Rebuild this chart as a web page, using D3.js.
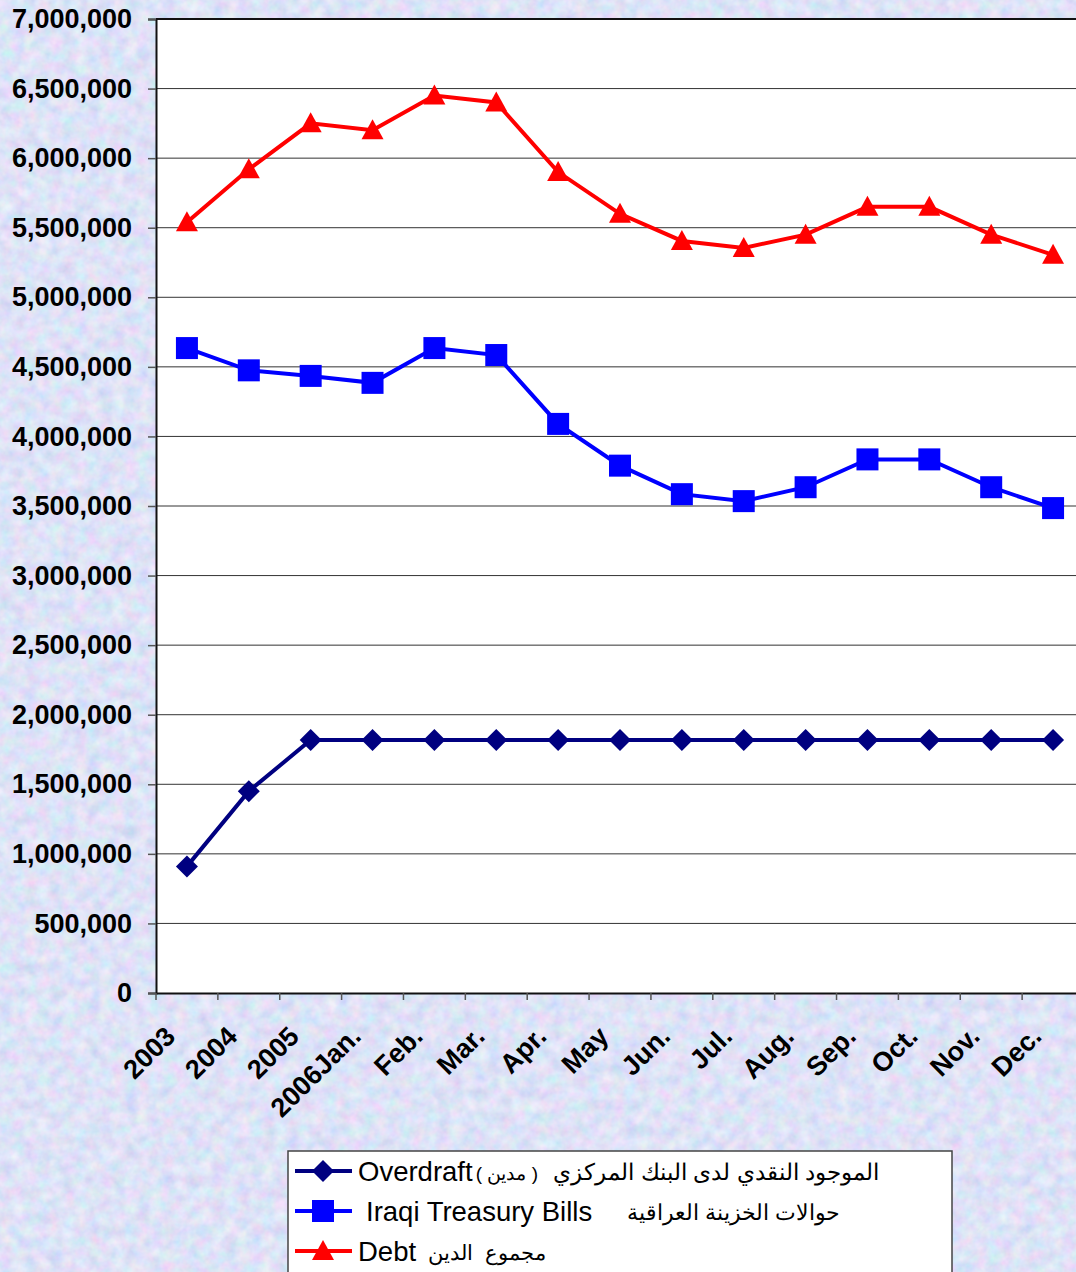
<!DOCTYPE html>
<html lang="en-US">
<head>
<meta charset="UTF-8">
<title>Debt chart</title>
<script src="https://cdn.jsdelivr.net/npm/d3@7"></script>
<style>
  body { margin: 0; padding: 0; }
  text { font-family: "Liberation Sans", Arial, sans-serif; }
</style>
</head>
<body>
<div id="chart"></div>
<script type="text/javascript">
    // data
    let categories = ["2003", "2004", "2005", "2006Jan.", "Feb.", "Mar.", "Apr.", "May", "Jun.", "Jul.", "Aug.", "Sep.", "Oct.", "Nov.", "Dec."];
    let overdraft = [910000, 1450000, 1818000, 1818000, 1818000, 1818000, 1818000, 1818000, 1818000, 1818000, 1818000, 1818000, 1818000, 1818000, 1818000];
    let treasuryBills = [4635000, 4475000, 4435000, 4385000, 4635000, 4585000, 4090000, 3790000, 3585000, 3535000, 3635000, 3835000, 3835000, 3635000, 3485000];
    let debt = [5540000, 5920000, 6250000, 6200000, 6450000, 6400000, 5900000, 5600000, 5405000, 5355000, 5450000, 5650000, 5650000, 5450000, 5305000];
    let yTicks = [0, 500000, 1000000, 1500000, 2000000, 2500000, 3000000, 3500000, 4000000, 4500000, 5000000, 5500000, 6000000, 6500000, 7000000];
    let legendEnglish = ["Overdraft", "Iraqi Treasury Bills", "Debt"];
    let legendArabic = [["الموجود النقدي لدى البنك المركزي", "( مدين )"], ["حوالات الخزينة العراقية"], ["مجموع  الدين"]];

    let width = 1076;
    let height = 1272;
    let margin = {top: 19, left: 156};
    let plotRight = 1084;
    let plotBottom = 993;

    var svg = d3.select("#chart")
                .append("svg")
                .attr("width", width)
                .attr("height", height);

    // textured background
    const defs = svg.append("defs");
    const filter = defs.append("filter").attr("id", "paper")
        .attr("x", 0).attr("y", 0).attr("width", "100%").attr("height", "100%");
    filter.append("feTurbulence")
        .attr("type", "fractalNoise")
        .attr("baseFrequency", 0.08)
        .attr("numOctaves", 3)
        .attr("seed", 4);
    filter.append("feColorMatrix")
        .attr("type", "matrix")
        .attr("values", "0.6 0 0 0 0.48  0 0.45 0 0 0.58  0 0 0.25 0 0.82  0 0 0 0 1");

    svg.append("rect").attr("width", width).attr("height", height).attr("fill", "#c6d0f0");
    svg.append("rect").attr("width", width).attr("height", height)
        .attr("filter", "url(#paper)").attr("opacity", 0.8);

    var x = d3.scaleBand()
              .domain(categories)
              .range([margin.left, plotRight]);

    var y = d3.scaleLinear()
              .domain([0, 7000000])
              .range([plotBottom, margin.top]);

    // plot area
    svg.append("rect")
        .attr("x", margin.left).attr("y", margin.top)
        .attr("width", plotRight - margin.left).attr("height", plotBottom - margin.top)
        .attr("fill", "white");

    // gridlines
    svg.append("g")
        .selectAll("line")
        .data(yTicks.filter(d => d > 0 && d < 7000000))
        .enter()
        .append("line")
            .attr("x1", margin.left).attr("x2", plotRight)
            .attr("y1", d => y(d)).attr("y2", d => y(d))
            .attr("stroke", "#333").attr("stroke-width", 1);

    // top border
    svg.append("line")
        .attr("x1", margin.left).attr("x2", plotRight)
        .attr("y1", y(7000000)).attr("y2", y(7000000))
        .attr("stroke", "#111").attr("stroke-width", 2);

    // y axis
    const yAxisG = svg.append("g")
        .attr("transform", "translate(" + margin.left + ",0)")
        .call(d3.axisLeft(y).tickValues(yTicks).tickSize(8).tickPadding(16).tickFormat(d3.format(",")));
    yAxisG.select(".domain").attr("stroke", "#111").attr("stroke-width", 2);
    yAxisG.selectAll(".tick line").attr("stroke", "#555").attr("stroke-width", 1.5);
    yAxisG.selectAll(".tick text")
        .style("font-size", "27px")
        .style("font-weight", "bold")
        .attr("fill", "#000");

    // x axis
    const xAxisG = svg.append("g")
        .attr("transform", "translate(0," + plotBottom + ")")
        .call(d3.axisBottom(x).tickSize(0).tickFormat(""));
    xAxisG.select(".domain").attr("stroke", "#111").attr("stroke-width", 2);

    // category boundary ticks
    xAxisG.append("g")
        .selectAll("line")
        .data(categories)
        .enter()
        .append("line")
            .attr("x1", d => x(d)).attr("x2", d => x(d))
            .attr("y1", 0).attr("y2", 7)
            .attr("stroke", "#555").attr("stroke-width", 1.5);

    xAxisG.append("g")
        .selectAll("text")
        .data(categories)
        .enter()
        .append("text")
            .attr("transform", d => "translate(" + (x(d) + x.bandwidth() / 2 - 10) + ",45) rotate(-45)")
            .attr("text-anchor", "end")
            .style("font-size", "27px")
            .style("font-weight", "bold")
            .attr("fill", "#000")
            .text(d => d);

    // markers
    function diamond(g, c) {
        g.append("path").attr("d", "M0,-11L11,0L0,11L-11,0Z").attr("fill", c);
    }
    function square(g, c) {
        g.append("rect").attr("x", -11).attr("y", -11).attr("width", 22).attr("height", 22).attr("fill", c);
    }
    function triangle(g, c) {
        g.append("path").attr("d", "M0,-11L11,9L-11,9Z").attr("fill", c);
    }

    let series = [
        {values: overdraft, color: "#000080", marker: diamond},
        {values: treasuryBills, color: "#0000ff", marker: square},
        {values: debt, color: "#ff0000", marker: triangle}
    ];

    var line = d3.line()
        .x((d, i) => x(categories[i]) + x.bandwidth() / 2)
        .y(d => y(d));

    series.forEach(function(s) {
        svg.append("path")
            .datum(s.values)
            .attr("d", line)
            .attr("fill", "none")
            .attr("stroke", s.color)
            .attr("stroke-width", 4);
        s.values.forEach(function(v, i) {
            const mg = svg.append("g")
                .attr("transform", "translate(" + (x(categories[i]) + x.bandwidth() / 2) + "," + y(v) + ")");
            s.marker(mg, s.color);
        });
    });

    // legend
    const legend = svg.append("g");
    legend.append("rect")
        .attr("x", 288).attr("y", 1151)
        .attr("width", 664).attr("height", 140)
        .attr("fill", "white")
        .attr("stroke", "#444").attr("stroke-width", 1.5);

    let legendY = [1171, 1211, 1251];
    let englishX = [358, 366, 358];
    let arabicRight = [[879, 538], [840], [546]];
    let arabicSize = [[23, 19], [22], [21]];
    series.forEach(function(s, i) {
        legend.append("line")
            .attr("x1", 295).attr("x2", 352)
            .attr("y1", legendY[i]).attr("y2", legendY[i])
            .attr("stroke", s.color).attr("stroke-width", 4);
        const mg = legend.append("g").attr("transform", "translate(323," + legendY[i] + ")");
        s.marker(mg, s.color);
        legend.append("text")
            .attr("x", englishX[i])
            .attr("y", legendY[i] + 10)
            .style("font-size", "27.5px")
            .attr("fill", "#000")
            .text(legendEnglish[i]);
        legendArabic[i].forEach(function(t, j) {
            legend.append("text")
                .attr("x", arabicRight[i][j])
                .attr("y", legendY[i] + 9)
                .attr("direction", "rtl")
                .style("direction", "rtl")
                .style("unicode-bidi", "embed")
                .style("white-space", "pre")
                .attr("text-anchor", "start")
                .style("font-size", arabicSize[i][j] + "px")
                .attr("fill", "#000")
                .text(t);
        });
    });
</script>
</body>
</html>
